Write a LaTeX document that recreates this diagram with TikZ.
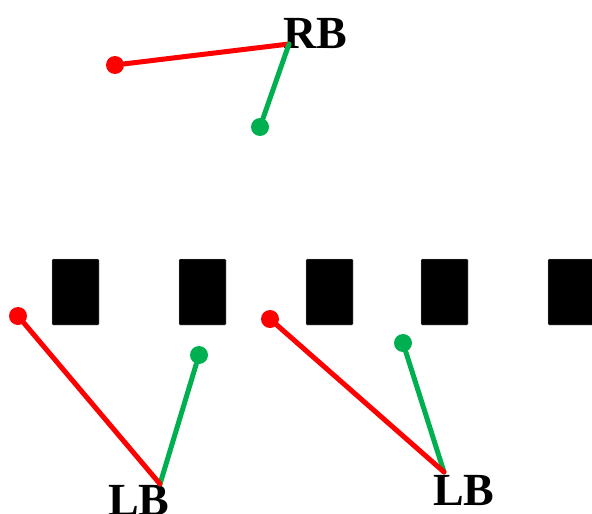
\documentclass[tikz,border=0pt]{standalone}
\usepackage{fontspec}
\setmainfont{Liberation Serif}
\usepackage{tikz}
\definecolor{grn}{RGB}{0,176,80}
\tikzset{
    blk/.style={
                draw=gray!60,
                fill=black,
                very thin,
                rounded corners=1pt,
                minimum width=47pt,
                minimum height=66pt,
                inner sep=0pt
            },
        dot/.style={
                circle,
                inner sep=0pt,
                minimum size=18pt
            },
        tag/.style={
                anchor=base west,
                inner sep=0pt,
                font=\fontsize{46}{46}\selectfont\bfseries
            },
        redline/.style={draw=red,line width=5pt,line cap=round},
        greenline/.style={draw=grn,line width=5pt,line cap=round},
}

\begin{document}
\begin{tikzpicture}[x=1pt,y=-1pt]
  \useasboundingbox (0,0) rectangle (592,514);
  % Blocks
  \foreach \i/\x in {1/75.5,2/202.5,3/329.5,4/444.5,5/571.5}
    \node[blk] (blk\i) at (\x,292) {};
  % Labels and joints
  \node[tag] (rbtxt) at (283,48) {RB};
  \node[tag] (lbtxt1) at (108,515) {LB};
  \node[tag] (lbtxt2) at (433,505) {LB};
  \coordinate (rb) at (289,44);
  \coordinate (lb1) at (160,484);
  \coordinate (lb2) at (444,472);
  % Ends
  \node[dot,fill=red] (r0) at (115,65) {};
  \node[dot,fill=grn] (g0) at (260,127) {};
  \node[dot,fill=red] (r1) at (18,316) {};
  \node[dot,fill=grn] (g1) at (199,355) {};
  \node[dot,fill=red] (r2) at (270,319) {};
  \node[dot,fill=grn] (g2) at (403,343) {};
  % Connectors
  \draw[redline] (r0) -- (rb);
  \draw[greenline] (g0) -- (rb);
  \draw[greenline] (g1) -- (lb1);
  \draw[redline] (r1) -- (lb1);
  \draw[greenline] (g2) -- (lb2);
  \draw[redline] (r2) -- (lb2);
\end{tikzpicture}
\end{document}
